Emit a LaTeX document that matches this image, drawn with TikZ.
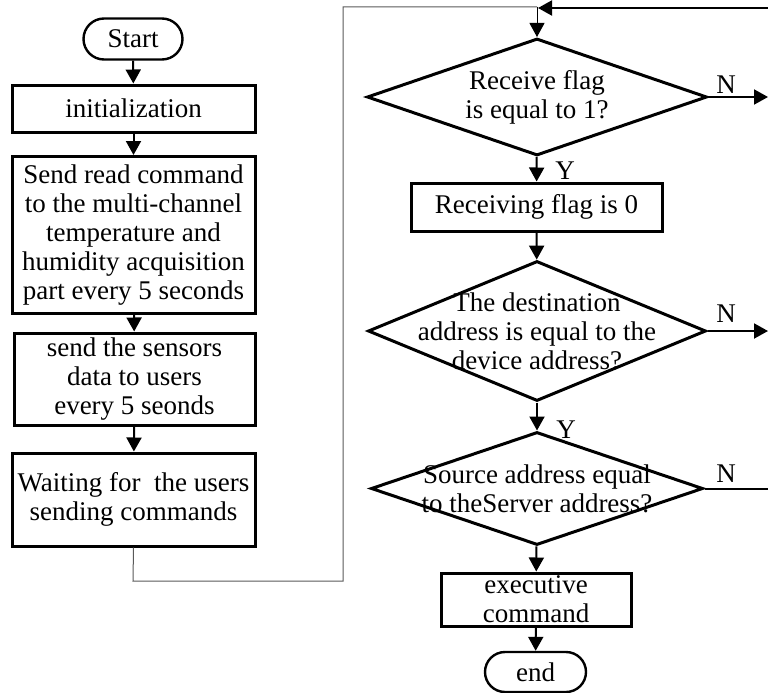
\documentclass[tikz,border=0pt]{standalone}
\usepackage{fontspec}
\setmainfont{Liberation Serif}
\usetikzlibrary{arrows.meta,shapes.geometric,shapes.misc}
\begin{document}
\begin{tikzpicture}[x=1pt,y=-1pt,
  every node/.style={font=\fontsize{27}{29}\selectfont},
  proc/.style={draw,line width=3pt,rectangle,inner sep=0pt,align=center},
  term/.style={draw,line width=2.4pt,rounded rectangle,inner sep=0pt,align=center},
  decide/.style={draw,line width=3pt,diamond,inner sep=0pt},
  flow/.style={line width=2pt,-{Triangle[width=15pt,length=14pt]}},
  plain/.style={line width=2pt},
  link/.style={line width=1pt,draw=black!65},
  lbl/.style={inner sep=0pt}
]
\useasboundingbox (0,0) rectangle (768,693);

% left column
\node[term,minimum width=99,minimum height=41] (start) at (133,39) {Start};
\node[proc,minimum width=243,minimum height=47] (init) at (133.5,108.5) {initialization};
\node[proc,minimum width=243,minimum height=157] (send) at (133.5,235) {Send read command\\to the multi-channel\\temperature and\\humidity acquisition\\part every 5 seconds};
\node[proc,minimum width=241,minimum height=92] (sens) at (134.5,379) {send the sensors\\data to users\\every 5 seonds};
\node[proc,minimum width=243,minimum height=93] (wait) at (133.5,499.5) {Waiting for\ \ the users\\sending commands};

\draw[flow] (start) -- (init);
\draw[flow] (init) -- (send);
\draw[flow] (send) -- (sens);
\draw[flow] (sens) -- (wait);

% right column
\node[decide,minimum width=340,minimum height=117] (d1) at (537,97) {};
\node[lbl,align=center] at (d1) {Receive flag\\is equal to 1?};
\node[proc,minimum width=251,minimum height=48] (flag) at (536.5,207) {Receiving flag is 0};
\node[decide,minimum width=338,minimum height=140] (d2) at (537,331) {};
\node[lbl,align=center] at (d2) {The destination\\address is equal to the\\device address?};
\node[decide,minimum width=332,minimum height=113] (d3) at (537,488.5) {};
\node[lbl,align=center] at (d3) {Source address equal\\to theServer address?};
\node[proc,minimum width=190,minimum height=53] (exec) at (536,599.5) {executive\\command};
\node[term,minimum width=101,minimum height=40] (end) at (535.5,672) {end};

\draw[flow] (d1) -- (flag);
\draw[flow] (flag) -- (d2);
\draw[flow] (d2) -- (d3);
\draw[flow] (d3) -- (exec);
\draw[flow] (exec) -- (end);

\node[lbl] at (565,171) {Y};
\node[lbl] at (566,430) {Y};

% link from the left column to the top of the loop
\coordinate (c1) at (133,581);
\coordinate (c2) at (343,581);
\coordinate (c3) at (343,7);
\coordinate (c4) at (537,7);
\draw[link] (wait.south) -- (c1) -- (c2) -- (c3) -- (c4);
\draw[line width=1pt,-{Triangle[width=15pt,length=14pt]}] (c4) -- (d1.north);

% exits to the right
\coordinate (r1) at (768,97);
\coordinate (r2) at (768,331);
\coordinate (r3) at (768,488.5);
\coordinate (rt) at (768,8);
\draw[flow] (d1.east) -- (r1);
\draw[flow] (d2.east) -- (r2);
\draw[plain] (d3.east) -- (r3);
\node[lbl] at (726,85) {N};
\node[lbl] at (726,314) {N};
\node[lbl] at (726,474) {N};

% loop return
\draw[flow] (rt) -- (538,8);
\end{tikzpicture}
\end{document}
